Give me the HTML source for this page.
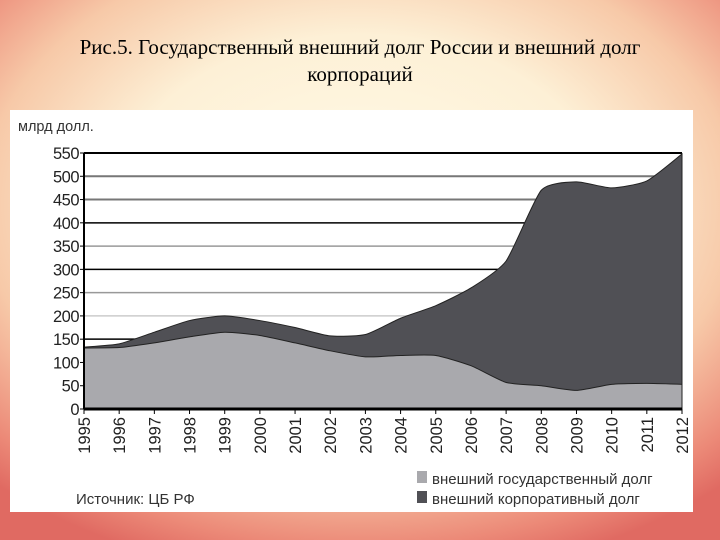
<!DOCTYPE html>
<html><head><meta charset="utf-8"><style>
html,body{margin:0;padding:0}
body{width:720px;height:540px;overflow:hidden;position:relative;
background:radial-gradient(ellipse 75% 70% at 50% 38%,#fffbe8 0%,#fdf0d6 45%,#f7c9a8 70%,#ec8a78 90%,#e06a62 100%);
font-family:"Liberation Sans",sans-serif}
#title{position:absolute;left:0;top:34px;width:720px;text-align:center;font-family:"Liberation Serif",serif;font-size:21px;line-height:27px;color:#000}
#box{position:absolute;left:10px;top:110px;width:683px;height:402px;background:#fff}
svg{position:absolute;left:0;top:0}
</style></head><body>
<div id="title">Рис.5. Государственный внешний долг России и внешний долг<br>корпораций</div>
<div id="box"></div>
<svg id="chart" width="720" height="540"></svg>
<script>
const years=[1995,1996,1997,1998,1999,2000,2001,2002,2003,2004,2005,2006,2007,2008,2009,2010,2011,2012];
const govDebt=[131,132,142,155,165,158,142,125,112,115,115,93,57,50,40,53,55,53];
const corpDebt=[2,8,23,35,35,32,33,32,48,80,107,167,261,420,448,422,435,495];
const yTicks=[0,50,100,150,200,250,300,350,400,450,500,550];
const NS='http://www.w3.org/2000/svg';
const svg=document.getElementById('chart');
const x0=84,x1=682,y0=409,y1=153,vmax=550;
const X=i=>x0+(x1-x0)*i/(years.length-1);
const Y=v=>y0-(y0-y1)*v/vmax;
function el(t,a,p){const e=document.createElementNS(NS,t);for(const k in a)e.setAttribute(k,a[k]);(p||svg).appendChild(e);return e;}
function smooth(pts){let d='';for(let i=0;i<pts.length;i++){const p=pts[i];if(i===0){d+='M'+p[0]+','+p[1];continue;}
const p0=pts[i-2]||pts[i-1],p1=pts[i-1],p3=pts[i+1]||p;const t=0.1;
const c1=[p1[0]+(p[0]-p0[0])*t,p1[1]+(p[1]-p0[1])*t],c2=[p[0]-(p3[0]-p1[0])*t,p[1]-(p3[1]-p1[1])*t];
d+=' C'+c1+' '+c2+' '+p;}return d;}
const gridCols={50:null,100:null,150:'#000',200:'#ccc',250:'#999',300:'#000',350:'#999',400:'#000',450:'#777',500:'#777',550:'#000'};
yTicks.forEach(v=>{
 const c=gridCols[v];
 if(c){const g=el('line',{x1:x0,x2:x1,y1:Y(v),y2:Y(v),stroke:c,'stroke-width':v===550||v===450||v===500?2:1.5});
 }
 const tk=el('line',{x1:x0-4,x2:x0,y1:Y(v),y2:Y(v),stroke:'#000'});
 
 const t=el('text',{x:x0-5,y:Y(v)+6,'text-anchor':'end','font-size':16.5,fill:'#222','letter-spacing':'-0.5'});
 t.textContent=v;
});
const totPts=years.map((y,i)=>[X(i),Y(govDebt[i]+corpDebt[i])]);
const govPts=years.map((y,i)=>[X(i),Y(govDebt[i])]);
const corp=el('path',{d:smooth(totPts)+' L'+x1+','+y0+' L'+x0+','+y0+' Z',fill:'#505055',stroke:'#222','stroke-width':1});

const gov=el('path',{d:smooth(govPts)+' L'+x1+','+y0+' L'+x0+','+y0+' Z',fill:'#a9a9ad',stroke:'#222','stroke-width':1});

const ax=el('line',{x1:x0,x2:x0,y1:y1,y2:y0,stroke:'#000','stroke-width':2});

const bx=el('line',{x1:x0,x2:x1,y1:y0,y2:y0,stroke:'#000','stroke-width':3});

years.forEach((yr,i)=>{
 const tk=el('line',{x1:X(i),x2:X(i),y1:y0,y2:y0+5,stroke:'#000'});
 
 const t=el('text',{x:0,y:0,'text-anchor':'end','font-size':16.5,fill:'#222',transform:'translate('+(X(i)+6)+','+(y0+8)+') rotate(-90)'});
 t.textContent=yr;
});
const u=el('text',{x:18,y:131,'font-size':14.5,fill:'#333'});u.textContent='млрд долл.';

const s=el('text',{x:76,y:504,'font-size':15,fill:'#333'});s.textContent='Источник: ЦБ РФ';

const l1=el('rect',{x:417,y:471,width:10,height:12,fill:'#a9a9ad'});
const t1=el('text',{x:432,y:484,'font-size':15,fill:'#333'});t1.textContent='внешний государственный долг';
const l2=el('rect',{x:417,y:491,width:10,height:12,fill:'#505055'});
const t2=el('text',{x:432,y:504,'font-size':15,fill:'#333'});t2.textContent='внешний корпоративный долг';
</script>
</body></html>
